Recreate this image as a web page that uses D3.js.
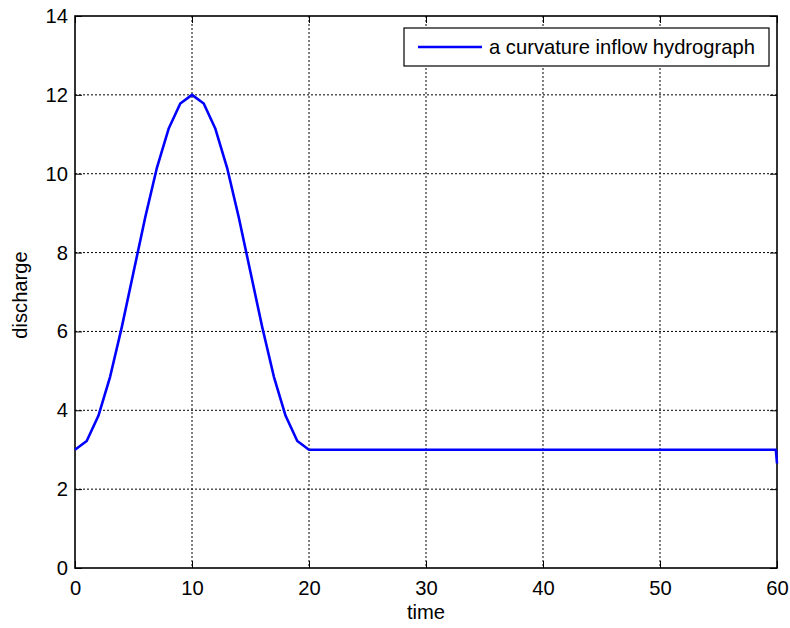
<!DOCTYPE html>
<html><head><meta charset="utf-8">
<script src="https://cdn.jsdelivr.net/npm/d3@7"></script>
<style>body{margin:0;background:#fff}svg{display:block}text{font-family:"Liberation Sans",Arial,sans-serif;fill:#000}</style>
</head><body>
<svg id="c" width="790" height="628"></svg>
<script>
const time = [0,1,2,3,4,5,6,7,8,9,10,11,12,13,14,15,16,17,18,19,20,25,30,35,40,45,50,55,59.9,60];
const discharge = [3.0,3.22,3.86,4.85,6.11,7.5,8.89,10.15,11.14,11.78,12.0,11.78,11.14,10.15,8.89,7.5,6.11,4.85,3.86,3.22,3.0,3.0,3.0,3.0,3.0,3.0,3.0,3.0,3.0,2.65];
const xTicks = [0,10,20,30,40,50,60];
const yTicks = [0,2,4,6,8,10,12,14];
const seriesName = "a curvature inflow hydrograph";
const xLabel = "time", yLabel = "discharge";

const svg = d3.select("#c");
const L=75, R=777, T=16, B=568;
const x = d3.scaleLinear().domain([0,60]).range([L,R]);
const y = d3.scaleLinear().domain([0,14]).range([B,T]);
const fs = 20.2, tl = 7;

// grid
const g = svg.append("g");
g.selectAll(".gx").data(xTicks.slice(1,-1)).join("line")
  .attr("x1",d=>x(d)).attr("x2",d=>x(d)).attr("y1",T).attr("y2",B)
  .attr("stroke","#000").attr("stroke-width",1).attr("stroke-dasharray","2,2");
g.selectAll(".gy").data(yTicks.slice(1,-1)).join("line")
  .attr("y1",d=>y(d)).attr("y2",d=>y(d)).attr("x1",L).attr("x2",R)
  .attr("stroke","#000").attr("stroke-width",1).attr("stroke-dasharray","2,2");

// axes
const ax = svg.append("g").attr("transform",`translate(0,${B})`)
  .call(d3.axisBottom(x).tickValues(xTicks).tickSize(-tl).tickPadding(13).tickSizeOuter(0));
const axT = svg.append("g").attr("transform",`translate(0,${T})`)
  .call(d3.axisTop(x).tickValues(xTicks).tickSize(-tl).tickFormat("").tickSizeOuter(0));
const ay = svg.append("g").attr("transform",`translate(${L},0)`)
  .call(d3.axisLeft(y).tickValues(yTicks).tickSize(-tl).tickPadding(7).tickSizeOuter(0));
const ayR = svg.append("g").attr("transform",`translate(${R},0)`)
  .call(d3.axisRight(y).tickValues(yTicks).tickSize(-tl).tickFormat("").tickSizeOuter(0));
[ax,axT,ay,ayR].forEach(a=>{
  a.selectAll("text").attr("font-size",fs).attr("font-family","Liberation Sans, Arial, sans-serif");
  a.selectAll("line").attr("stroke","#000");
  a.select(".domain").remove();
});
svg.append("rect").attr("x",L).attr("y",T).attr("width",R-L).attr("height",B-T)
  .attr("fill","none").attr("stroke","#000").attr("stroke-width",1.6);

// line
const line = d3.line().x((d,i)=>x(time[i])).y(d=>y(d));
svg.append("path").datum(discharge).attr("d",line)
  .attr("fill","none").attr("stroke","#0000ff").attr("stroke-width",2.6).attr("stroke-linejoin","round");

// labels
svg.append("text").attr("x",(L+R)/2).attr("y",619).attr("text-anchor","middle").attr("font-size",fs).text(xLabel);
svg.append("text").attr("transform",`translate(27,${(T+B)/2+3}) rotate(-90)`).attr("text-anchor","middle").attr("font-size",fs).text(yLabel);

// legend
const lg = svg.append("g");
lg.append("rect").attr("x",404).attr("y",28).attr("width",365).attr("height",38)
  .attr("fill","#fff").attr("stroke","#000").attr("stroke-width",1.2);
lg.append("line").attr("x1",418).attr("x2",482).attr("y1",47).attr("y2",47)
  .attr("stroke","#0000ff").attr("stroke-width",2.6);
lg.append("text").attr("x",489).attr("y",53.5).attr("font-size",fs).text(seriesName);
</script>
</body></html>
